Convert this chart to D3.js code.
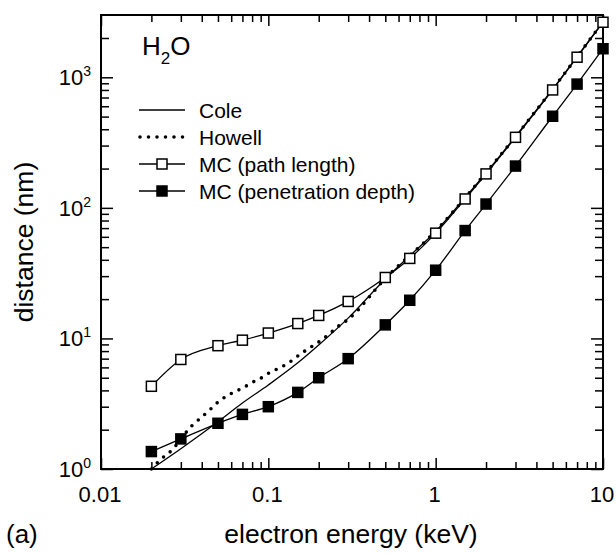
<!DOCTYPE html>
<meta charset="utf-8">
<style>
body { margin: 0; background: #fff; }
text { font-family: "Liberation Sans", Arial, sans-serif; fill: #000; }
.axis path { display: none; }
.axis line { stroke: #000; stroke-width: 1.5; }
</style>
<svg width="616" height="554"></svg>
<script src="https://cdn.jsdelivr.net/npm/d3@7"></script>
<script>
// electron range in water
var energy = [0.02, 0.03, 0.05, 0.07, 0.1, 0.15, 0.2, 0.3, 0.5, 0.7, 1, 1.5, 2, 3, 5, 7, 10];
var pathLength = [4.3, 6.9, 8.8, 9.7, 11.0, 13.0, 15.0, 19.2, 29.3, 41, 64, 117, 182, 347, 800, 1425, 2640];
var penDepth = [1.36, 1.70, 2.24, 2.62, 3.0, 3.86, 5.0, 7.0, 12.7, 19.6, 33.3, 67, 107, 209, 503, 887, 1655];
var coleDist = [1.0, 1.43, 2.3, 3.2, 4.4, 6.5, 8.9, 14.3, 28.5, 43, 66, 120, 185, 352, 810, 1440, 2660];
var howellEnergy = [0.02, 0.0225, 0.026, 0.035, 0.04, 0.045, 0.05, 0.056, 0.063, 0.071, 0.08, 0.09, 0.1,
                    0.115, 0.13, 0.145, 0.165, 0.19, 0.21, 0.235, 0.26, 0.3, 0.5, 1, 2, 5, 10];
var howellDist = [1.0, 1.17, 1.36, 2.15, 2.5, 2.86, 3.25, 3.6, 3.9, 4.2, 4.6, 4.95, 5.4,
                  5.9, 6.4, 7.1, 8.0, 9.0, 9.8, 11.0, 12.3, 14.0, 28.8, 66.5, 186, 812, 2665];
var xMajor = [0.01, 0.1, 1, 10], xMajorLabels = ["0.01", "0.1", "1", "10"];
var yMajor = [1, 10, 100, 1000], yExp = ["0", "1", "2", "3"];
var legendNames = ["Cole", "Howell", "MC (path length)", "MC (penetration depth)"];

var svg = d3.select("svg"),
    pL = 101, pR = 603, pT = 15, pB = 469;

var x = d3.scaleLog().domain([0.01, 10]).range([pL, pR]);
var y = d3.scaleLog().domain([1, 3000]).range([pB, pT]);

var xMinor = x.ticks().filter(function(d) { return xMajor.indexOf(d) < 0; });
var yMinor = y.ticks().filter(function(d) { return yMajor.indexOf(d) < 0 && d < 3000; });

// ticks, all pointing inward
function tickAxis(axisFn, scale, vals, size, pos) {
  svg.append("g").attr("class", "axis").attr("transform", pos)
    .call(axisFn(scale).tickValues(vals).tickSize(-size).tickFormat(""));
}
tickAxis(d3.axisBottom, x, xMinor, 7, "translate(0," + pB + ")");
tickAxis(d3.axisBottom, x, xMajor, 11, "translate(0," + pB + ")");
tickAxis(d3.axisTop, x, xMinor, 7, "translate(0," + pT + ")");
tickAxis(d3.axisTop, x, xMajor, 11, "translate(0," + pT + ")");
tickAxis(d3.axisLeft, y, yMinor, 8, "translate(" + pL + ",0)");
tickAxis(d3.axisLeft, y, yMajor, 12, "translate(" + pL + ",0)");
tickAxis(d3.axisRight, y, yMinor, 8, "translate(" + pR + ",0)");
tickAxis(d3.axisRight, y, yMajor, 12, "translate(" + pR + ",0)");

svg.append("rect")
    .attr("x", pL).attr("y", pT)
    .attr("width", pR - pL).attr("height", pB - pT)
    .attr("fill", "none").attr("stroke", "#000").attr("stroke-width", 2);

// tick labels
svg.selectAll(".xl").data(xMajor).enter().append("text")
    .attr("x", function(d) { return x(d) - 1; })
    .attr("y", 502)
    .attr("text-anchor", "middle")
    .style("font-size", "22px")
    .text(function(d, i) { return xMajorLabels[i]; });

var yl = svg.selectAll(".yl").data(yMajor).enter().append("text")
    .attr("x", 91)
    .attr("y", function(d) { return y(d) + 8; })
    .attr("text-anchor", "end")
    .style("font-size", "22px");
yl.append("tspan").text("10");
yl.append("tspan").attr("dy", -9).style("font-size", "14px").text(function(d, i) { return yExp[i]; });

// axis titles
svg.append("text").attr("x", 351).attr("y", 543).attr("text-anchor", "middle")
    .style("font-size", "26.5px").text("electron energy (keV)");
svg.append("text").attr("x", 6).attr("y", 543).style("font-size", "26px").text("(a)");
svg.append("text").attr("transform", "translate(33,242) rotate(-90)").attr("text-anchor", "middle")
    .style("font-size", "26.5px").text("distance (nm)");

var h2o = svg.append("text").attr("x", 142).attr("y", 55).style("font-size", "26px");
h2o.append("tspan").text("H");
h2o.append("tspan").attr("dy", 9).style("font-size", "17px").text("2");
h2o.append("tspan").attr("dy", -9).text("O");

// curves
var line = d3.line()
    .x(function(d) { return x(d[0]); })
    .y(function(d) { return y(d[1]); })
    .curve(d3.curveMonotoneX);

function pairs(a, b) { return a.map(function(v, i) { return [v, b[i]]; }); }

svg.append("path").datum(pairs(howellEnergy, howellDist))
    .attr("d", line).attr("fill", "none").attr("stroke", "#000")
    .attr("stroke-width", 3.6).attr("stroke-linecap", "round").attr("stroke-dasharray", "0 8.5");

svg.append("path").datum(pairs(energy, coleDist))
    .attr("d", line).attr("fill", "none").attr("stroke", "#000").attr("stroke-width", 1.3);

svg.append("path").datum(pairs(energy, pathLength))
    .attr("d", line).attr("fill", "none").attr("stroke", "#000").attr("stroke-width", 1.3);

svg.append("path").datum(pairs(energy, penDepth))
    .attr("d", line).attr("fill", "none").attr("stroke", "#000").attr("stroke-width", 1.3);

var sq = 10;
svg.selectAll(".open").data(pairs(energy, pathLength)).enter().append("rect")
    .attr("x", function(d) { return x(d[0]) - sq / 2; })
    .attr("y", function(d) { return y(d[1]) - sq / 2; })
    .attr("width", sq).attr("height", sq)
    .attr("fill", "#fff").attr("stroke", "#000").attr("stroke-width", 1.5);

svg.selectAll(".filled").data(pairs(energy, penDepth)).enter().append("rect")
    .attr("x", function(d) { return x(d[0]) - sq / 2; })
    .attr("y", function(d) { return y(d[1]) - sq / 2; })
    .attr("width", sq).attr("height", sq)
    .attr("fill", "#000").attr("stroke", "#000").attr("stroke-width", 1.5);

// legend
var legY = [110, 137, 164, 191];
var leg = svg.selectAll(".leg").data(legendNames).enter().append("g")
    .attr("transform", function(d, i) { return "translate(0," + legY[i] + ")"; });
leg.append("line")
    .attr("x1", function(d, i) { return i == 1 ? 140 : 139; })
    .attr("x2", 185)
    .attr("stroke", "#000")
    .attr("stroke-width", function(d, i) { return i == 1 ? 3.6 : 1.3; })
    .attr("stroke-linecap", function(d, i) { return i == 1 ? "round" : "butt"; })
    .attr("stroke-dasharray", function(d, i) { return i == 1 ? "0 8.5" : null; });
leg.filter(function(d, i) { return i >= 2; }).append("rect")
    .attr("x", 162 - sq / 2).attr("y", -sq / 2).attr("width", sq).attr("height", sq)
    .attr("stroke", "#000").attr("stroke-width", 1.5)
    .attr("fill", function(d, i) { return i == 0 ? "#fff" : "#000"; });
leg.append("text").attr("x", 199).attr("y", 7.5)
    .style("font-size", "21px").text(function(d) { return d; });
</script>
